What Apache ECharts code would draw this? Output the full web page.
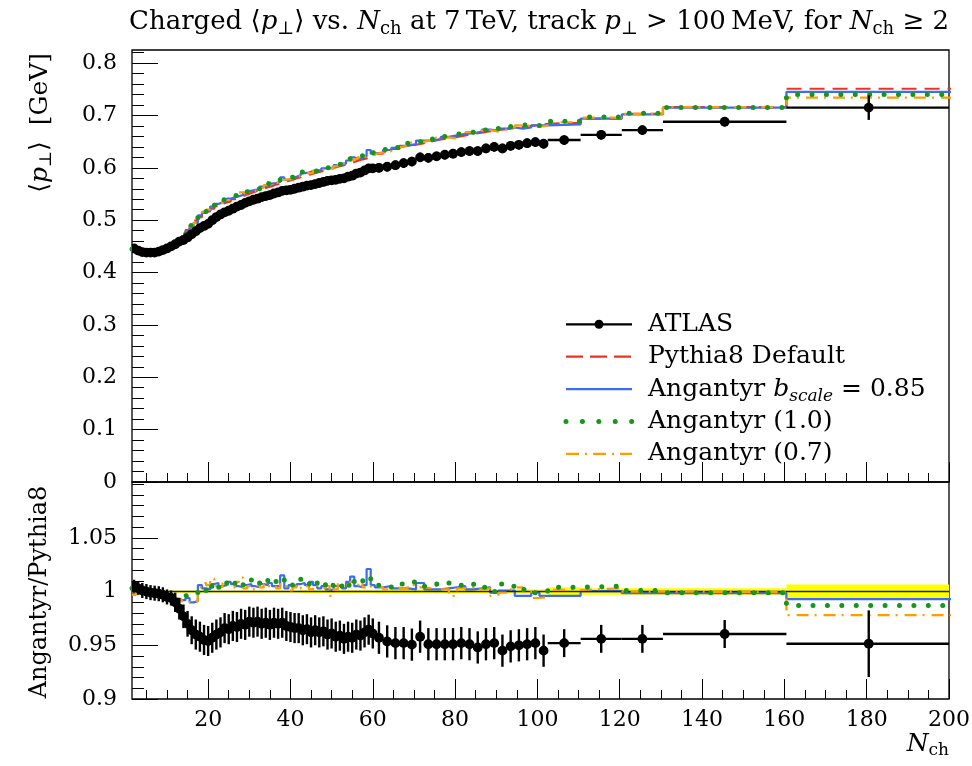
<!DOCTYPE html>
<html><head><meta charset="utf-8">
<script src="https://cdn.jsdelivr.net/npm/echarts@6/dist/echarts.min.js"></script>
<style>html,body{margin:0;padding:0;background:#fff}#c{width:972px;height:766px}</style>
</head><body><div id="c"></div>
<script>
// ---------- DATA ----------
const binEdges = [1.5,2.5,3.5,4.5,5.5,6.5,7.5,8.5,9.5,10.5,
 11.5,12.5,13.5,14.5,15.5,16.5,17.5,18.5,19.5,20.5,
 21.5,22.5,23.5,24.5,25.5,26.5,27.5,28.5,29.5,30.5,
 31.5,32.5,33.5,34.5,35.5,36.5,37.5,38.5,39.5,40.5,
 41.5,42.5,43.5,44.5,45.5,46.5,47.5,48.5,49.5,50.5,
 51.5,52.5,53.5,54.5,55.5,56.5,57.5,58.5,59.5,60.5,
 62.5,64.5,66.5,68.5,70.5,72.5,74.5,76.5,78.5,80.5,
 82.5,84.5,86.5,88.5,90.5,92.5,94.5,96.5,98.5,100.5,102.5,
 110.5,120.5,130.5,160.5,200.5];

const atlasMean = [.446,.442,.439,.438,.438,.438,.440,.443,.446,.450,
 .454,.459,.462,.467,.473,.479,.485,.489,.493,.500,
 .506,.511,.515,.518,.522,.526,.529,.533,.536,.539,
 .541,.544,.546,.548,.551,.553,.556,.557,.558,.560,
 .562,.564,.566,.567,.569,.571,.573,.575,.576,.577,
 .579,.580,.583,.585,.589,.591,.595,.599,.599,
 .600,.602,.605,.609,.612,.620,.619,.622,.625,.627,.630,.632,.632,.637,.640,.637,.642,.644,.647,.649,.646,
 .653,.663,.672,.688,.715];
const atlasMeanErr = [.003,.003,.003,.003,.003,.003,.003,.003,.005,.005,
 .005,.005,.005,.008,.008,.008,.008,.008,.008,.008,
 .008,.008,.008,.008,.008,.008,.008,.008,.008,.008,
 .008,.008,.008,.008,.008,.008,.008,.008,.008,.008,
 .008,.008,.008,.008,.008,.008,.008,.008,.008,.008,
 .008,.008,.008,.008,.008,.008,.008,.008,.008,
 .009,.009,.009,.009,.009,.009,.009,.009,.009,.009,.009,.009,.009,.009,.009,.009,.009,.009,.009,.009,.009,
 .009,.009,.009,.009,.0235];
const pythiaMean = [.444,.441,.439,.438,.438,.439,.441,.444,.448,.453,
 .459,.466,.473,.481,.491,.499,.506,.512,.517,.522,
 .527,.531,.534,.536,.540,.543,.546,.549,.552,.555,
 .557,.560,.563,.565,.568,.570,.573,.575,.577,.580,
 .582,.585,.587,.589,.591,.593,.596,.598,.600,.602,
 .604,.606,.609,.611,.614,.616,.618,.621,.623,
 .627,.631,.636,.640,.644,.647,.651,.654,.657,.659,.662,.665,.667,.670,.672,.674,.676,.678,.680,.682,.684,
 .686,.694,.703,.716,.751];
const ang085Mean = [.443,.444,.440,.438,.437,.439,.440,.444,.447,.452,
 .456,.462,.469,.478,.486,.495,.509,.514,.518,.526,
 .531,.534,.537,.541,.544,.546,.548,.552,.556,.558,
 .559,.564,.566,.570,.571,.573,.582,.577,.580,.583,
 .586,.590,.591,.594,.595,.595,.599,.599,.601,.605,
 .608,.608,.614,.620,.617,.618,.622,.634,.627,
 .629,.634,.638,.642,.645,.652,.652,.655,.659,.662,.665,.666,.669,.673,.671,.675,.677,.675,.677,.681,.681,
 .683,.694,.702,.715,.745];
const ang10Mean = [.445,.441,.439,.438,.438,.438,.441,.443,.447,.451,
 .458,.464,.471,.480,.490,.498,.506,.511,.521,.525,
 .531,.533,.539,.540,.543,.547,.551,.552,.558,.559,
 .560,.564,.570,.569,.573,.576,.580,.579,.582,.583,
 .587,.592,.591,.594,.594,.599,.600,.600,.604,.607,
 .607,.611,.613,.618,.620,.620,.624,.630,.628,
 .631,.635,.639,.644,.650,.650,.654,.659,.661,.664,.666,.668,.672,.673,.672,.679,.679,.682,.681,.681,.683,
 .689,.697,.704,.715,.740];
const ang07Mean = [.443,.441,.439,.438,.437,.437,.441,.443,.446,.451,
 .456,.463,.469,.476,.487,.495,.508,.516,.520,.528,
 .530,.533,.538,.539,.542,.548,.553,.551,.555,.556,
 .560,.562,.567,.568,.571,.572,.577,.578,.578,.582,
 .585,.587,.590,.590,.595,.595,.598,.601,.598,.603,
 .609,.608,.613,.616,.618,.623,.620,.623,.626,
 .629,.632,.639,.642,.648,.650,.653,.657,.658,.656,.664,.668,.668,.672,.669,.673,.677,.681,.680,.678,.681,
 .687,.696,.703,.716,.734];

const atlasRatio = [1.005,1.003,1.001,1.000,.999,.9985,.998,.997,.995,.994,
 .990,.984,.977,.970,.964,.960,.958,.955,.954,.957,
 .960,.962,.966,.965,.968,.967,.970,.969,.972,.971,
 .972,.970,.971,.969,.971,.970,.971,.968,.967,.966,
 .966,.964,.965,.962,.964,.962,.963,.960,.961,.958,
 .959,.956,.958,.957,.960,.959,.962,.9645,.961,
 .957,.9536,.952,.952,.9506,.958,.951,.951,.951,.951,.952,.951,.948,.951,.952,.945,.949,.950,.951,.952,.945,
 .952,.956,.956,.9605,.9515];
const atlasRatioErr = [.006,.006,.007,.007,.007,.007,.007,.007,.007,.007,
 .009,.010,.011,.012,.013,.014,.014,.014,.014,.014,
 .014,.014,.014,.014,.014,.014,.014,.014,.014,.014,
 .014,.014,.014,.014,.014,.014,.014,.014,.014,.014,
 .014,.014,.014,.014,.014,.014,.014,.014,.014,.014,
 .014,.014,.014,.014,.014,.014,.014,.014,.014,
 .015,.015,.015,.015,.015,.015,.015,.015,.015,.015,.015,.015,.015,.015,.015,.015,.015,.015,.015,.015,.015,
 .013,.013,.013,.013,.031];
const ang085Ratio = [.998,1.006,1.002,.999,.998,.999,.997,.999,.998,.997,
 .993,.992,.992,.994,.990,.991,1.006,1.003,1.002,1.007,
 1.008,1.005,1.006,1.009,1.007,1.005,1.004,1.006,1.007,1.005,
 1.004,1.007,1.006,1.008,1.005,1.005,1.015,1.003,1.006,1.005,
 1.007,1.008,1.006,1.009,1.006,1.003,1.005,1.002,1.001,1.005,
 1.006,1.003,1.009,1.014,1.005,1.004,1.006,1.021,1.006,
 1.004,1.005,1.003,1.003,1.002,1.008,1.002,1.002,1.003,1.004,1.005,1.002,1.003,1.004,.999,1.001,1.001,.996,.996,.999,.996,
 .996,1.0005,.9985,.9985,.993];
const ang10Ratio = [1.003,1.001,1.000,.999,.999,.998,.999,.998,.997,.996,
 .997,.996,.996,.997,.998,.997,1.000,.998,1.007,1.005,
 1.008,1.004,1.009,1.007,1.005,1.008,1.010,1.006,1.011,1.007,
 1.006,1.008,1.012,1.007,1.009,1.011,1.013,1.007,1.008,1.006,
 1.009,1.012,1.007,1.008,1.005,1.010,1.007,1.003,1.006,1.008,
 1.005,1.009,1.006,1.012,1.009,1.007,1.010,1.014,1.008,
 1.006,1.006,1.004,1.007,1.009,1.005,1.005,1.007,1.006,1.008,1.006,1.005,1.007,1.004,1.000,1.007,1.005,1.006,1.002,.999,.999,
 1.004,1.005,1.001,.999,.987];
const ang07Ratio = [.997,1.001,1.000,.999,.998,.996,.999,.997,.996,.995,
 .994,.993,.991,.990,.992,.991,1.004,1.008,1.006,1.012,
 1.005,1.004,1.008,1.006,1.004,1.009,1.013,1.003,1.005,1.002,
 1.006,1.004,1.007,1.005,1.006,1.003,1.007,1.005,1.001,1.004,
 1.006,1.003,1.005,1.002,1.006,1.004,1.003,1.005,.996,1.002,
 1.008,1.004,1.006,1.009,1.006,1.011,1.004,1.003,1.005,
 1.004,1.002,1.005,1.003,1.006,1.004,1.003,1.005,1.002,.996,1.003,1.004,1.002,1.003,.996,.999,1.002,1.004,1.000,.994,.995,
 1.0015,1.003,1.000,.9995,.978];
const pythiaRatioErr = [.001,.001,.001,.001,.001,.001,.001,.001,.001,.001,
 .001,.001,.001,.001,.001,.001,.001,.001,.001,.001,
 .001,.001,.001,.001,.001,.001,.001,.001,.001,.001,
 .001,.001,.001,.001,.001,.001,.001,.001,.001,.001,
 .001,.0015,.0015,.0015,.0015,.0015,.0015,.0015,.0015,.0015,
 .0015,.0015,.0015,.0015,.0015,.0015,.0015,.0015,.0015,
 .002,.002,.002,.002,.002,.002,.002,.002,.002,.002,.002,.002,.002,.002,.002,.002,.002,.002,.002,.002,.002,
 .004,.003,.003,.003,.0066];

const xMajorTicks = [20,40,60,80,100,120,140,160,180,200];
const xMinorTicks = [5,10,15,25,30,35,45,50,55,65,70,75,85,90,95,105,110,115,125,130,135,145,150,155,165,170,175,185,190,195];
const yMainTicks = [0,0.1,0.2,0.3,0.4,0.5,0.6,0.7,0.8];
const yMainMinor = [0.02,0.04,0.06,0.08,0.12,0.14,0.16,0.18,0.22,0.24,0.26,0.28,0.32,0.34,0.36,0.38,0.42,0.44,0.46,0.48,0.52,0.54,0.56,0.58,0.62,0.64,0.66,0.68,0.72,0.74,0.76,0.78,0.82];
const yRatioTicks = [0.9,0.95,1,1.05];
const yRatioMinor = [0.91,0.92,0.93,0.94,0.96,0.97,0.98,0.99,1.01,1.02,1.03,1.04,1.06,1.07,1.08,1.09,1.1];

const legendLabels = ['ATLAS','Pythia8 Default','Angantyr {bi|b}{bs|scale} = 0.85','Angantyr (1.0)','Angantyr (0.7)'];

// ---------- STYLE ----------
const serif = 'DejaVu Serif';
const COL = {red:'#ee3322', blue:'#3b6cf2', green:'#16961a', orange:'#ff9c00'};
const LS = {
  red:{color:COL.red,width:2.2,type:[15,8]},
  blue:{color:COL.blue,width:2.2,type:'solid'},
  green:{color:COL.green,width:5,type:[0.01,14.4],cap:'round'},
  orange:{color:COL.orange,width:2.2,type:[12,6,2,7]}
};

function steps(vals){
  const out=[];
  for(let i=0;i<vals.length;i++){ out.push([binEdges[i],vals[i]],[binEdges[i+1],vals[i]]); }
  return out;
}
function stepSeries(vals, ls, xi, yi, z){
  return {type:'line', xAxisIndex:xi, yAxisIndex:yi, data:steps(vals), symbol:'none', showSymbol:false,
    lineStyle:ls, clip:true, z:z, silent:true, animation:false};
}
function dataSeries(vals, errs, xi, yi){
  return {type:'custom', xAxisIndex:xi, yAxisIndex:yi, clip:true, z:10, silent:true,
    dimensions:['x','y','lo','hi','err'], encode:{x:0,y:1},
    data: vals.map((v,i)=>[(binEdges[i]+binEdges[i+1])/2, v, binEdges[i], binEdges[i+1], errs[i]]),
    renderItem(params, api){
      const x=api.value(0), y=api.value(1), lo=api.value(2), hi=api.value(3), e=api.value(4);
      const c=api.coord([x,y]), l=api.coord([lo,y]), h=api.coord([hi,y]);
      const t=api.coord([x,y+e]), b=api.coord([x,y-e]);
      return {type:'group', children:[
        {type:'line', shape:{x1:l[0],y1:c[1],x2:h[0],y2:c[1]}, style:{stroke:'#000',lineWidth:2.4}},
        {type:'line', shape:{x1:c[0],y1:t[1],x2:c[0],y2:b[1]}, style:{stroke:'#000',lineWidth:2.4}},
        {type:'circle', shape:{cx:c[0],cy:c[1],r:4.9}, style:{fill:'#000'}}
      ]};
    }};
}
function bandSeries(errs, xi, yi){
  return {type:'custom', xAxisIndex:xi, yAxisIndex:yi, clip:true, z:1, silent:true,
    dimensions:['lo','hi','err'], encode:{x:[0,1], y:2},
    data: errs.map((e,i)=>[binEdges[i], binEdges[i+1], e]),
    renderItem(params, api){
      const lo=api.value(0), hi=api.value(1), e=api.value(2);
      const p1=api.coord([lo,1+e]), p2=api.coord([hi,1-e]);
      const r=echarts.graphic.clipRectByRect({x:p1[0],y:p1[1],width:p2[0]-p1[0],height:p2[1]-p1[1]},
        {x:params.coordSys.x,y:params.coordSys.y,width:params.coordSys.width,height:params.coordSys.height});
      return r ? {type:'rect', shape:r, style:{fill:'#ffff00'}} : null;
    },
    markLine:{silent:true, symbol:'none', label:{show:false}, animation:false,
      lineStyle:{color:'#222', width:1.3, type:'solid'}, data:[{yAxis:1}]}
  };
}

function rich(base){
  const sub = Math.round(base*0.68);
  const slh = Math.round(base*0.62);
  return {
    i:{fontFamily:serif,fontSize:base,fontStyle:'italic',fill:'#000',color:'#000'},
    s:{fontFamily:serif,fontSize:sub,lineHeight:slh,verticalAlign:'bottom',fill:'#000',color:'#000'},
    bi:{fontFamily:serif,fontSize:base,fontStyle:'italic',fill:'#000',color:'#000'},
    bs:{fontFamily:serif,fontSize:sub,fontStyle:'italic',lineHeight:slh,verticalAlign:'bottom',fill:'#000',color:'#000'}
  };
}
function textEl(x,y,text,size,align,rot){
  return {type:'text', x:x, y:y, rotation:rot||0, silent:true, z:20,
    style:{text:text, fontFamily:serif, fontSize:size, fill:'#000', lineHeight:Math.round(size*1.25),
      align:align, textAlign:align, verticalAlign:'middle', textVerticalAlign:'middle', rich:rich(size)}};
}

function tickAxisX(grid, values, len, labels){
  return {type:'value', gridIndex:grid, min:1.5, max:200, position:'bottom',
    axisLine:{show:false}, splitLine:{show:false}, minorTick:{show:false},
    axisTick:{show:true, inside:true, length:len, customValues:values, lineStyle:{color:'#000',width:1}},
    axisLabel: labels ? {show:true, customValues:values, margin:10, fontFamily:serif, fontSize:22, color:'#000', hideOverlap:false,
      formatter:v=>String(Math.round(v))} : {show:false}};
}
function tickAxisY(grid, min, max, values, len, labels){
  return {type:'value', gridIndex:grid, min:min, max:max, position:'left',
    axisLine:{show:false}, splitLine:{show:false}, minorTick:{show:false},
    axisTick:{show:true, inside:true, length:len, customValues:values, lineStyle:{color:'#000',width:1}},
    axisLabel: labels ? {show:true, customValues:values, margin:15, fontFamily:serif, fontSize:22, color:'#000', hideOverlap:false,
      formatter:v=>String(Math.round(v*1000)/1000)} : {show:false}};
}

// legend graphics
const legX0 = 566, legX1 = 632, legTextX = 648, legY0 = 324.3, legDY = 32.4;
const legStyles = [
  {stroke:'#000', lineWidth:2.2},
  {stroke:COL.red, lineWidth:2.2, lineDash:[17,7]},
  {stroke:COL.blue, lineWidth:2.2},
  {stroke:COL.green, lineWidth:5, lineDash:[0.01,16.4], lineCap:'round'},
  {stroke:COL.orange, lineWidth:2.2, lineDash:[13,6,2,6]}
];
const legendEls = [];
legendLabels.forEach((lab,i)=>{
  const y = legY0 + i*legDY;
  legendEls.push({type:'line', silent:true, z:20, shape:{x1:legX0,y1:y,x2:legX1,y2:y}, style:legStyles[i]});
  if(i===0) legendEls.push({type:'circle', silent:true, z:21, shape:{cx:(legX0+legX1)/2,cy:y,r:4.5}, style:{fill:'#000'}});
  legendEls.push(textEl(legTextX, y, lab, 25, 'left', 0));
});

const option = {
  animation:false,
  backgroundColor:'#fff',
  grid:[
    {left:132, top:50, width:817, height:432, show:true, borderColor:'#000', borderWidth:1.3, backgroundColor:'transparent', containLabel:false, outerBoundsMode:'none'},
    {left:132, top:482, width:817, height:217, show:true, borderColor:'#000', borderWidth:1.3, backgroundColor:'transparent', containLabel:false, outerBoundsMode:'none'}
  ],
  xAxis:[
    tickAxisX(0, xMajorTicks, 20, false),
    tickAxisX(0, xMinorTicks, 9, false),
    tickAxisX(1, xMajorTicks, 20, true),
    tickAxisX(1, xMinorTicks, 9, false)
  ],
  yAxis:[
    tickAxisY(0, 0, 0.825, yMainTicks, 26, true),
    tickAxisY(0, 0, 0.825, yMainMinor, 12, false),
    tickAxisY(1, 0.9, 1.102, yRatioTicks, 26, true),
    tickAxisY(1, 0.9, 1.102, yRatioMinor, 12, false)
  ],
  series:[
    stepSeries(pythiaMean, LS.red, 0, 0, 3),
    stepSeries(ang085Mean, LS.blue, 0, 0, 4),
    stepSeries(ang07Mean, LS.orange, 0, 0, 5),
    stepSeries(ang10Mean, LS.green, 0, 0, 6),
    dataSeries(atlasMean, atlasMeanErr, 0, 0),
    bandSeries(pythiaRatioErr, 2, 2),
    stepSeries(ang085Ratio, LS.blue, 2, 2, 4),
    stepSeries(ang07Ratio, LS.orange, 2, 2, 5),
    stepSeries(ang10Ratio, LS.green, 2, 2, 6),
    dataSeries(atlasRatio, atlasRatioErr, 2, 2)
  ],
  graphic:[
    textEl(949, 22, 'Charged \u27E8{i|p}{s|\u22A5}\u27E9 vs. {i|N}{s|ch} at 7\u2009TeV, track {i|p}{s|\u22A5} > 100\u2009MeV, for {i|N}{s|ch} \u2265 2', 26, 'right', 0),
    textEl(40, 53, '\u27E8{i|p}{s|\u22A5}\u27E9  [GeV]', 25, 'right', Math.PI/2),
    textEl(40, 592, 'Angantyr/Pythia8', 24, 'center', Math.PI/2),
    textEl(949, 744, '{i|N}{s|ch}', 25, 'right', 0)
  ].concat(legendEls)
};
const chart = echarts.init(document.getElementById('c'), null, {renderer:'canvas', width:972, height:766});
chart.setOption(option);
</script></body></html>
